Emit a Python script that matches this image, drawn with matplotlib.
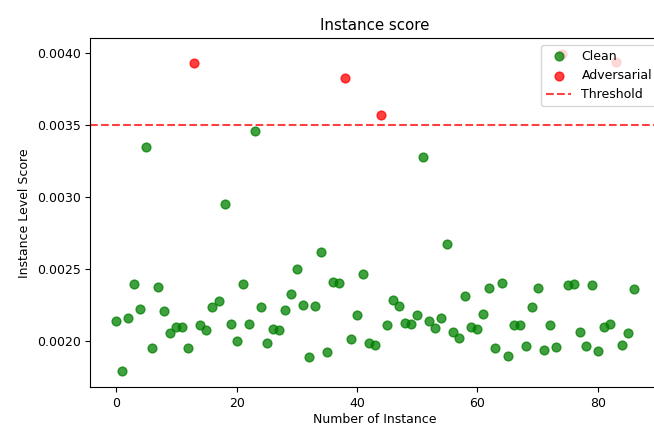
import matplotlib
matplotlib.use('Agg')
import matplotlib.pyplot as plt

n_instances = 87
threshold = 0.0035

adv_idx = [13, 38, 44, 74, 83]
adv_score = [0.003930, 0.003831, 0.003574, 0.003993, 0.003940]

clean_idx = [i for i in range(n_instances) if i not in adv_idx]
clean_score = [
    0.002139, 0.001790, 0.002162, 0.002394, 0.002224, 0.003349, 0.001949, 0.002377,
    0.002208, 0.002056, 0.002099, 0.002099, 0.001949,
    0.002111, 0.002074, 0.002234, 0.002278, 0.002956, 0.002118, 0.002002, 0.002396,
    0.002118, 0.003463, 0.002234, 0.001984, 0.002083, 0.002076, 0.002215, 0.002324,
    0.002502, 0.002252, 0.001887, 0.002243, 0.002618, 0.001924, 0.002412, 0.002403,
    0.002012, 0.002181, 0.002465, 0.001984, 0.001974,
    0.002109, 0.002285, 0.002243, 0.002127, 0.002118, 0.002181, 0.003278, 0.002139,
    0.002090, 0.002162, 0.002678, 0.002065, 0.002021, 0.002315, 0.002099, 0.002083,
    0.002190, 0.002368, 0.001949, 0.002403, 0.001896, 0.002111, 0.002111, 0.001968,
    0.002234, 0.002368, 0.001935, 0.002111, 0.001958,
    0.002389, 0.002396, 0.002065, 0.001963, 0.002387, 0.001933, 0.002099, 0.002118,
    0.001974, 0.002056, 0.002359,
]

plt.rcParams['font.size'] = 9

fig = plt.figure(figsize=(6.54, 4.26), dpi=100)
# axes run a few pixels past the right edge of the figure
ax = fig.add_axes([0.138, 0.091, 0.871, 0.819])

ax.scatter(clean_idx, clean_score, color='green', alpha=0.75, s=40, label='Clean')
ax.scatter(adv_idx, adv_score, color='red', alpha=0.75, s=40, label='Adversarial')
ax.axhline(threshold, color='red', linestyle='--', alpha=0.75, label='Threshold')

ax.set_title('Instance score')
ax.set_xlabel('Number of Instance', labelpad=2)
ax.set_ylabel('Instance Level Score')
ax.legend(loc='upper right', bbox_to_anchor=(1.006, 1.0))

fig.savefig('out.png', dpi=100)
